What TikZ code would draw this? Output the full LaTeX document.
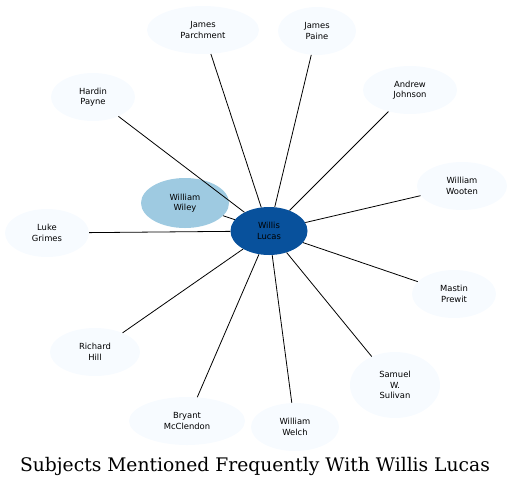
\documentclass[tikz,border=0pt]{standalone}
\usepackage{fontspec}
\newfontfamily\nodefont{DejaVu Sans}
\newfontfamily\titlefont{DejaVu Serif}
\usetikzlibrary{shapes.geometric}
\definecolor{lightfill}{HTML}{F7FBFF}
\definecolor{centerfill}{HTML}{08519C}
\definecolor{wileyfill}{HTML}{9ECAE1}
\tikzset{
  subj/.style={ellipse, fill=lightfill, inner sep=0pt, align=center,
    font=\nodefont\fontsize{8.4}{10.5}\selectfont},
  edge/.style={draw=black, line width=0.8pt}
}
\begin{document}
\begin{tikzpicture}[x=1pt,y=-1pt]
\useasboundingbox (0,0) rectangle (513,488);
\node[subj, fill=centerfill, minimum width=77pt, minimum height=48pt] (lucas) at (269,231) {Willis\\Lucas};
\node[subj, fill=wileyfill, minimum width=88pt, minimum height=50pt] (wiley) at (185,203) {William\\Wiley};
\node[subj, minimum width=112pt, minimum height=48pt] (parchment) at (203,30) {James\\Parchment};
\node[subj, minimum width=78pt, minimum height=48pt] (paine) at (317,31) {James\\Paine};
\node[subj, minimum width=94pt, minimum height=48pt] (johnson) at (410,90) {Andrew\\Johnson};
\node[subj, minimum width=84pt, minimum height=48pt] (payne) at (93,97) {Hardin\\Payne};
\node[subj, minimum width=90pt, minimum height=48pt] (wooten) at (462,186) {William\\Wooten};
\node[subj, minimum width=84pt, minimum height=48pt] (grimes) at (47,233) {Luke\\Grimes};
\node[subj, minimum width=84pt, minimum height=48pt] (prewit) at (454,294) {Mastin\\Prewit};
\node[subj, minimum width=90pt, minimum height=48pt] (hill) at (95,352) {Richard\\Hill};
\node[subj, minimum width=90pt, minimum height=66pt] (sulivan) at (395,385) {Samuel\\W.\\Sulivan};
\node[subj, minimum width=116pt, minimum height=48pt] (mcclendon) at (187,421) {Bryant\\McClendon};
\node[subj, minimum width=88pt, minimum height=48pt] (welch) at (295,427) {William\\Welch};
\node[font=\titlefont\fontsize{18.7}{22}\selectfont] (title) at (255,466) {Subjects Mentioned Frequently With Willis Lucas};
\foreach \n in {wiley,parchment,paine,johnson,payne,wooten,grimes,prewit,hill,sulivan,mcclendon,welch}
  \draw[edge] (lucas) -- (\n);
\end{tikzpicture}
\end{document}
